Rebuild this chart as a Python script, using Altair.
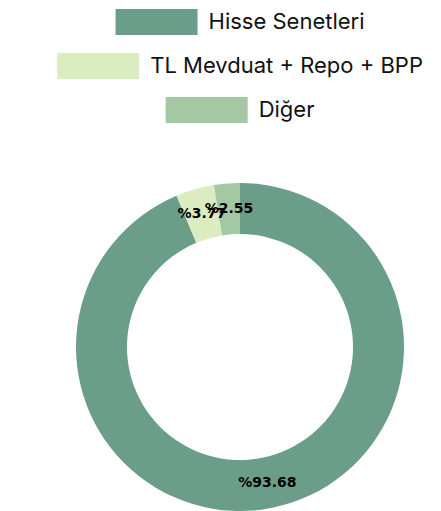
import altair as alt
import pandas as pd

categories = ["Hisse Senetleri", "TL Mevduat + Repo + BPP", "Diğer"]
values = [93.68, 3.77, 2.55]
colors = ["#6b9e88", "#dcecc1", "#a4c7a4"]

df = pd.DataFrame({
    "cat": categories,
    "val": values,
    "ord": list(range(len(categories))),
    "label": ["%" + f"{v:.2f}" for v in values],
})

color_scale = alt.Scale(domain=categories, range=colors)

LEG_FONT = "Inter"


def legend_row(i):
    row = df.iloc[[i]]
    base = alt.Chart(row)
    box = base.mark_rect().encode(
        x=alt.value(0), x2=alt.value(82), y=alt.value(0), y2=alt.value(26),
        color=alt.Color("cat:N", scale=color_scale, legend=None),
    )
    txt = base.mark_text(align="left", baseline="middle", fontSize=22,
                         font=LEG_FONT, color="#111111").encode(
        x=alt.value(93), y=alt.value(13), text="cat:N"
    )
    return alt.layer(box, txt).properties(width=82, height=26)


legend = alt.vconcat(*[legend_row(i) for i in range(3)], spacing=18, center=True)

base = alt.Chart(df).encode(
    theta=alt.Theta("val:Q", stack=True),
    order=alt.Order("ord:Q"),
)
arcs = base.mark_arc(innerRadius=113, outerRadius=164).encode(
    color=alt.Color("cat:N", scale=color_scale, legend=None)
)
labels = base.mark_text(radius=138.5, fontSize=14, fontWeight="bold",
                        font="DejaVu Sans", color="#000000").encode(text="label:N")
donut = alt.layer(arcs, labels).properties(width=328, height=328)

chart = alt.vconcat(legend, donut, spacing=60, center=True).properties(
    padding={"left": 49, "top": 1, "right": 0, "bottom": 0}
).configure_view(stroke=None)

chart.save("out.html", embed_options={"renderer": "svg", "actions": False})
